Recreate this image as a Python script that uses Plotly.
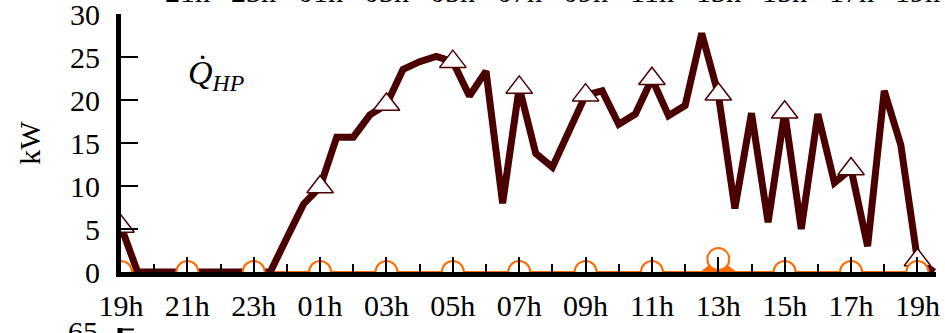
import plotly.graph_objects as go

# ---- data (half-hourly samples, hours counted from 19h) ----
hours = [i * 0.5 for i in range(50)]
tick_hours = [0, 2, 4, 6, 8, 10, 12, 14, 16, 18, 20, 22, 24]
tick_labels = ["19h", "21h", "23h", "01h", "03h", "05h", "07h", "09h",
               "11h", "13h", "15h", "17h", "19h"]
minor_hours = [1, 3, 5, 7, 9, 11, 13, 15, 17, 19, 21, 23]
y_ticks = [0, 5, 10, 15, 20, 25, 30]

q_hp = [5.3, 0, 0, 0, 0, 0, 0, 0, 0, 0,
        4.0, 7.9, 9.9, 15.7, 15.7, 18.3, 19.5, 23.6, 24.5, 25.1,
        24.5, 20.5, 23.4, 8.0, 21.5, 13.8, 12.2, 16.2, 20.6, 21.1,
        17.2, 18.4, 22.5, 18.2, 19.4, 27.8, 20.7, 7.4, 18.5, 5.8,
        18.6, 5.0, 18.4, 10.4, 12.0, 3.0, 21.1, 14.8, 1.4, 0]

q_aux = [0, 0, 0, 0, 0, 0, 0, 0, 0, 0,
         0, 0, 0, 0, 0, 0, 0, 0, 0, 0,
         0, 0, 0, 0, 0, 0, 0, 0, 0, 0,
         0, 0, 0, 0, 0, 0, 1.5, 0, 0, 0,
         0, 0, 0, 0, 0, 0, 0, 0, 0, 0]

marker_idx = list(range(0, len(hours), 4))

MAROON = "#4a0000"
ORANGE = "#ff6a00"
FONT = "Liberation Serif, Times New Roman, Times, serif"

W, H = 945, 333
L, R, T, B = 121, 9, 14, 61
PW, PH = W - L - R, H - T - B


def px(xp):
    return (xp - L) / PW


def py(yp):
    return (H - B - yp) / PH


fig = go.Figure()

# orange series (line + fill to zero)
fig.add_trace(go.Scatter(x=hours, y=q_aux, mode="lines",
                         line=dict(color=ORANGE, width=2),
                         fill="tozeroy", fillcolor=ORANGE,
                         showlegend=False, hoverinfo="skip"))
# maroon heat-pump line
fig.add_trace(go.Scatter(x=hours, y=q_hp, mode="lines",
                         line=dict(color=MAROON, width=7),
                         showlegend=False))
# triangles every 2 h
fig.add_trace(go.Scatter(x=[hours[i] for i in marker_idx],
                         y=[q_hp[i] for i in marker_idx],
                         mode="markers",
                         marker=dict(symbol="triangle-up", size=23, color="white",
                                     line=dict(color=MAROON, width=1.5)),
                         showlegend=False))
# circles every 2 h
fig.add_trace(go.Scatter(x=[hours[i] for i in marker_idx],
                         y=[q_aux[i] for i in marker_idx],
                         mode="markers",
                         marker=dict(symbol="circle", size=22, color="white",
                                     line=dict(color=ORANGE, width=2)),
                         showlegend=False))

fig.update_layout(
    width=W, height=H,
    margin=dict(l=L, r=R, t=T, b=B, autoexpand=False),
    paper_bgcolor="white", plot_bgcolor="white",
    font=dict(family=FONT, size=30, color="black"),
    showlegend=False,
)

fig.update_xaxes(
    range=[0, 24.56], automargin=False,
    tickmode="array", tickvals=tick_hours, ticktext=tick_labels,
    ticks="inside", ticklen=15, tickwidth=2, tickcolor="black",
    ticklabelstandoff=3, ticklabeloverflow="allow",
    minor=dict(tickmode="array", tickvals=minor_hours, ticks="inside",
               ticklen=8, tickwidth=2, tickcolor="black", showgrid=False),
    showline=True, linewidth=5, linecolor="black",
    showgrid=False, zeroline=False, layer="above traces",
    tickfont=dict(family=FONT, size=30, color="black"),
)
fig.update_yaxes(
    range=[0, 30.05], automargin=False,
    tickmode="array", tickvals=y_ticks,
    ticks="inside", ticklen=17, tickwidth=2, tickcolor="black",
    ticklabelstandoff=10, ticklabeloverflow="allow",
    showline=True, linewidth=5, linecolor="black",
    showgrid=False, zeroline=False, layer="above traces",
    tickfont=dict(family=FONT, size=30, color="black"),
    title=dict(text="kW", font=dict(family=FONT, size=30, color="black"), standoff=22),
)

# masks so that markers sitting on the axes are cut by the frame
fig.add_shape(type="rect", xref="paper", yref="paper", layer="above",
              x0=px(100), x1=px(W), y0=py(279), y1=py(288),
              line=dict(width=0), fillcolor="white")
fig.add_shape(type="rect", xref="paper", yref="paper", layer="above",
              x0=px(102), x1=px(115.5), y0=py(286), y1=py(30),
              line=dict(width=0), fillcolor="white")

# Q_HP label
fig.add_annotation(x=2.85, y=22.9, xref="x", yref="y",
                   text="<i>Q\u0307<sub>HP</sub></i>", showarrow=False,
                   font=dict(family=FONT, size=34, color="black"),
                   xanchor="center", yanchor="middle")

# fragments of neighbouring panels (cut by the frame)
for h, lab in zip(tick_hours, tick_labels):
    if h == 0:
        continue
    fig.add_annotation(x=h, y=py(-9), xref="x", yref="paper", text=lab,
                       showarrow=False, font=dict(family=FONT, size=30, color="black"),
                       xanchor="center", yanchor="middle")
fig.add_annotation(x=px(100), y=py(331), xref="paper", yref="paper", text="65",
                   showarrow=False, font=dict(family=FONT, size=30, color="black"),
                   xanchor="right", yanchor="middle")
fig.add_shape(type="line", xref="paper", yref="paper",
              x0=px(120), x1=px(120), y0=py(328), y1=py(345),
              line=dict(color="black", width=5))
fig.add_shape(type="line", xref="paper", yref="paper",
              x0=px(120), x1=px(134), y0=py(329.5), y1=py(329.5),
              line=dict(color="black", width=2))

fig.write_html("out.html")
